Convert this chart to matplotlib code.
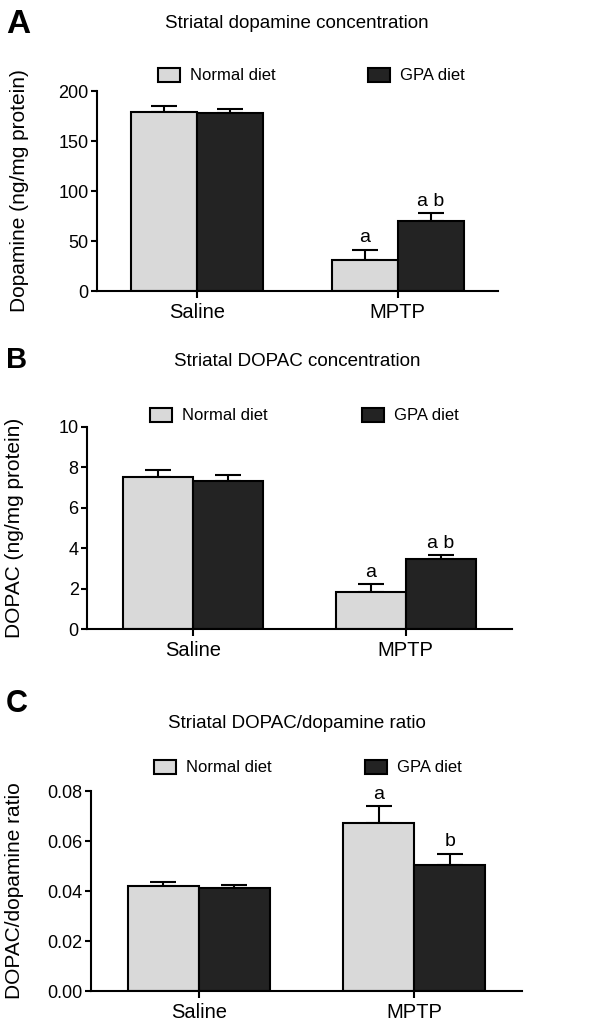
import numpy as np
import matplotlib
matplotlib.use("Agg")
import matplotlib.pyplot as plt
from matplotlib.patches import Patch

plt.rcParams['font.family'] = ['Liberation Sans', 'DejaVu Sans']

groups = ["Saline", "MPTP"]
series = ["Normal diet", "GPA diet"]
colors = ["#d9d9d9", "#232323"]

# means and upper SEM, [normal, gpa] per group
da_mean = [[179, 31.5], [178, 70]]
da_err = [[6.0, 10.0], [4.5, 8.3]]
dopac_mean = [[7.5, 1.84], [7.32, 3.46]]
dopac_err = [[0.38, 0.41], [0.31, 0.2]]
ratio_mean = [[0.0419, 0.0672], [0.0413, 0.0504]]
ratio_err = [[0.0019, 0.0067], [0.0012, 0.0046]]

# letters above bars [normal, gpa] per group
da_sig = [["", "a"], ["", "a b"]]
dopac_sig = [["", "a"], ["", "a b"]]
ratio_sig = [["", "a"], ["", "b"]]

W, H = 601, 1025
fig = plt.figure(figsize=(W / 100, H / 100), dpi=100)

def make_panel(rect, letter, letter_xy, letter_size, title, title_y, ylabel,
               ylabel_x, means, errs, sigs, ylim, yticks, ytlabels, leg_y, leg_x):
    l, t, r, b = rect
    ax = fig.add_axes([l / W, 1 - b / H, (r - l) / W, (b - t) / H])
    x = np.arange(len(groups))
    bw = 0.33
    for i in range(2):
        pos = x + (i - 0.5) * bw
        ax.bar(pos, means[i], bw, color=colors[i], edgecolor="black",
               linewidth=1.5, zorder=2)
        ax.errorbar(pos, means[i], yerr=[np.zeros(2), errs[i]], fmt="none",
                    ecolor="black", elinewidth=1.5, capsize=9.5,
                    capthick=1.5, zorder=1)
        for j in range(2):
            if sigs[i][j]:
                ax.text(pos[j], means[i][j] + errs[i][j] + ylim[1] * 0.015,
                        sigs[i][j], ha="center", va="bottom", fontsize=14)
    ax.set_xlim(-0.5, 1.5)
    ax.set_ylim(*ylim)
    ax.set_yticks(yticks)
    ax.set_yticklabels(ytlabels)
    ax.set_xticks(x)
    ax.set_xticklabels(groups, fontsize=14.5)
    ax.tick_params(axis="y", labelsize=13, length=4, width=1.5, pad=2)
    ax.tick_params(axis="x", length=5, width=1.5, pad=4)
    for s in ["top", "right"]:
        ax.spines[s].set_visible(False)
    for s in ["left", "bottom"]:
        ax.spines[s].set_linewidth(1.5)
    ax.spines["left"].set_bounds(ylim[0], ylim[1])
    fig.text(letter_xy[0] / W, 1 - letter_xy[1] / H, letter,
             fontsize=letter_size, fontweight="bold", ha="left", va="baseline")
    fig.text(297 / W, 1 - title_y / H, title, fontsize=13.5,
             ha="center", va="center")
    fig.text(ylabel_x / W, 1 - (t + b) / 2 / H, ylabel, fontsize=15,
             rotation=90, ha="center", va="center")
    handles = [Patch(facecolor=colors[i], edgecolor="black", linewidth=1.5)
               for i in range(2)]
    for i in range(2):
        fig.legend([handles[i]], [series[i]], frameon=False,
                   loc="center left", fontsize=12,
                   bbox_to_anchor=(leg_x[i] / W, 1 - leg_y / H),
                   handlelength=1.3, handleheight=0.9,
                   handletextpad=0.6, borderaxespad=0, borderpad=0)
    return ax

make_panel((97, 91, 498, 291), "A", (6, 33), 24,
           "Striatal dopamine concentration", 24, "Dopamine (ng/mg protein)", 20,
           da_mean, da_err, da_sig,
           (0, 200), [0, 50, 100, 150, 200], ["0", "50", "100", "150", "200"],
           75.5, (158, 368))
make_panel((87, 427, 512, 629), "B", (6, 368), 21,
           "Striatal DOPAC concentration", 361, "DOPAC (ng/mg protein)", 15,
           dopac_mean, dopac_err, dopac_sig,
           (0, 10), [0, 2, 4, 6, 8, 10], ["0", "2", "4", "6", "8", "10"],
           415.5, (150, 362))
make_panel((91, 791, 522, 991), "C", (6, 712), 22,
           "Striatal DOPAC/dopamine ratio", 724, "DOPAC/dopamine ratio", 15,
           ratio_mean, ratio_err, ratio_sig,
           (0, 0.08), [0, 0.02, 0.04, 0.06, 0.08],
           ["0.00", "0.02", "0.04", "0.06", "0.08"], 767.5, (154, 365))

fig.savefig("out.png", dpi=100)
